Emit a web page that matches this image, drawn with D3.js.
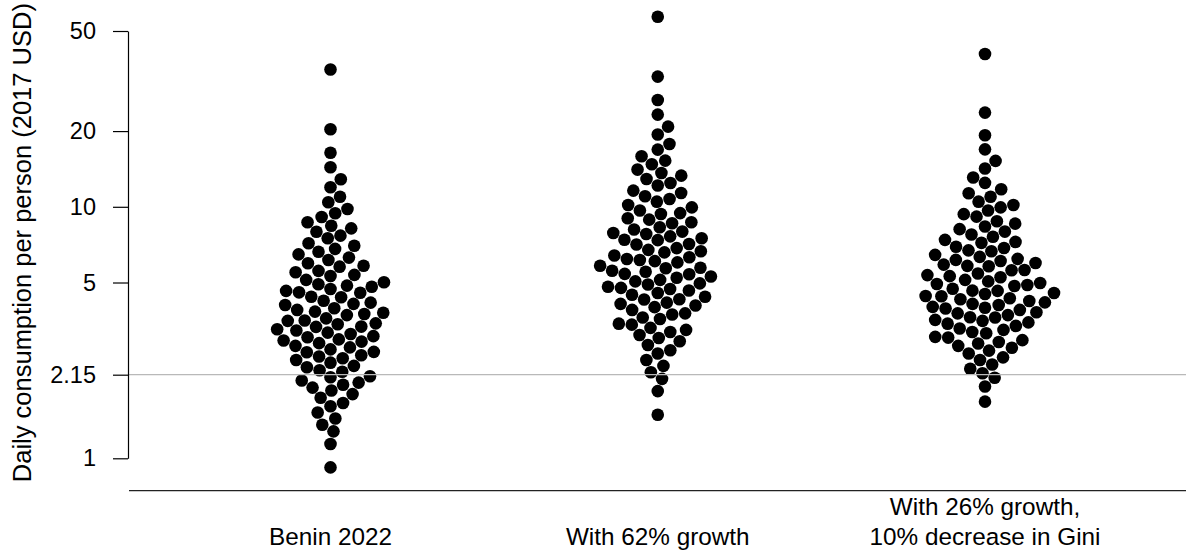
<!DOCTYPE html>
<html>
<head>
<meta charset="utf-8">
<script src="https://cdn.jsdelivr.net/npm/d3@7"></script>
<style>
  html, body { margin: 0; padding: 0; background: #ffffff; }
  svg { display: block; }
  text { font-family: "Liberation Sans", Arial, sans-serif; fill: #000; }
</style>
</head>
<body>
<svg id="chart" width="1186" height="550"></svg>
<script>
// ---------------- data ----------------
const categories = ["Benin 2022", "With 62% growth", "With 26% growth,\n10% decrease in Gini"];

const benin2022 = [35.15,20.33,16.41,14.36,12.86,11.96,10.97,10.42,9.80,9.42,
  9.11,8.68,8.41,8.21,7.96,7.68,7.50,7.16,7.00,6.80,
  6.63,6.47,6.28,6.14,5.96,5.83,5.78,5.56,5.49,5.36,
  5.31,5.12,5.01,4.92,4.86,4.81,4.71,4.63,4.57,4.55,
  4.39,4.37,4.23,4.16,4.11,4.07,3.95,3.89,3.83,3.79,
  3.75,3.71,3.60,3.53,3.52,3.44,3.41,3.34,3.33,3.26,
  3.22,3.16,3.12,3.06,3.03,2.97,2.94,2.91,2.87,2.80,
  2.76,2.71,2.65,2.64,2.57,2.54,2.50,2.46,2.40,2.33,
  2.30,2.24,2.21,2.12,2.10,2.04,2.00,1.96,1.91,1.86,
  1.80,1.74,1.66,1.61,1.52,1.44,1.36,1.28,1.14,0.92];

const growth62 = [56.94,32.93,26.58,23.26,20.83,19.38,17.77,16.88,15.88,15.26,
  14.76,14.06,13.62,13.30,12.90,12.44,12.15,11.60,11.34,11.02,
  10.74,10.48,10.17,9.95,9.66,9.44,9.36,9.01,8.89,8.68,
  8.60,8.29,8.12,7.97,7.87,7.79,7.63,7.50,7.40,7.37,
  7.11,7.08,6.85,6.74,6.66,6.59,6.40,6.30,6.20,6.14,
  6.08,6.01,5.83,5.72,5.70,5.57,5.52,5.41,5.39,5.28,
  5.22,5.12,5.05,4.96,4.91,4.81,4.76,4.71,4.65,4.54,
  4.47,4.39,4.29,4.28,4.16,4.11,4.05,3.99,3.89,3.77,
  3.73,3.63,3.58,3.43,3.40,3.30,3.24,3.18,3.09,3.01,
  2.92,2.82,2.69,2.61,2.46,2.33,2.20,2.07,1.85,1.49];

const growth26Gini10 = [40.50,23.69,19.25,16.92,15.22,14.20,13.08,12.45,11.75,11.32,
  10.97,10.48,10.17,9.95,9.66,9.35,9.14,8.76,8.57,8.35,
  8.15,7.97,7.76,7.60,7.39,7.25,7.19,6.94,6.86,6.71,
  6.66,6.44,6.32,6.21,6.15,6.09,5.98,5.89,5.82,5.80,
  5.61,5.59,5.43,5.35,5.30,5.25,5.12,5.05,4.98,4.93,
  4.89,4.84,4.72,4.64,4.63,4.54,4.50,4.42,4.41,4.33,
  4.29,4.22,4.17,4.11,4.07,4.00,3.97,3.94,3.89,3.81,
  3.77,3.71,3.64,3.63,3.55,3.52,3.47,3.43,3.36,3.28,
  3.24,3.18,3.14,3.04,3.02,2.95,2.90,2.86,2.80,2.75,
  2.68,2.61,2.52,2.46,2.36,2.27,2.18,2.09,1.93,1.68];

const yTickValues = [1, 2.15, 5, 10, 20, 50];
const yTickLabels = ["1", "2.15", "5", "10", "20", "50"];
const povertyLine = 2.15;
const yTitle = "Daily consumption per person (2017 USD)";

// ---------------- layout ----------------
const series = [benin2022, growth62, growth26Gini10];
const svg = d3.select("#chart");
svg.append("rect").attr("width", 1186).attr("height", 550).attr("fill", "#fff");

const axisX = 128;
const y = d3.scaleLog().domain([1, 50]).range([458.3, 31]);
const x = d3.scalePoint().domain(categories).range([330.5, 985]);

const dotR = 6.3;
const swarmUnit = 13; // spacing unit in px (beeswarm "swarm" method)

// R beeswarm "swarm" algorithm, priority ascending
function swarmOffsets(values) {
  const pos = values.map(v => y(v) / swarmUnit);
  const order = d3.range(values.length).sort((a, b) => (values[a] - values[b]) || (a - b));
  const placed = [];
  const offs = new Array(values.length).fill(0);
  order.forEach(idx => {
    const xi = pos[idx];
    const pot = placed.filter(q => Math.abs(xi - q.p) < 1);
    let off = 0;
    if (pot.length) {
      const cand = [0];
      pot.forEach(q => cand.push(q.o + Math.sqrt(1 - (xi - q.p) ** 2)));
      pot.forEach(q => cand.push(q.o - Math.sqrt(1 - (xi - q.p) ** 2)));
      let best = Infinity;
      cand.forEach(c => {
        const bad = pot.some(q => (xi - q.p) ** 2 + (c - q.o) ** 2 < 0.999);
        if (!bad && Math.abs(c) < Math.abs(best)) best = c;
      });
      off = best;
    }
    offs[idx] = off;
    placed.push({ p: xi, o: off });
  });
  return offs.map(o => o * swarmUnit);
}

// dots
series.forEach((vals, gi) => {
  const offs = swarmOffsets(vals);
  const cx0 = x(categories[gi]);
  svg.append("g").selectAll("circle")
    .data(vals.map((v, i) => ({ v, o: offs[i] })))
    .join("circle")
    .attr("cx", d => cx0 + d.o)
    .attr("cy", d => y(d.v))
    .attr("r", dotR)
    .attr("fill", "#000");
});

// poverty line (drawn over dots)
svg.append("line")
  .attr("x1", axisX).attr("x2", 1186)
  .attr("y1", y(povertyLine)).attr("y2", y(povertyLine))
  .attr("stroke", "#b9b9b9").attr("stroke-width", 1.3);

// y axis
const yAxis = d3.axisLeft(y)
  .tickValues(yTickValues)
  .tickFormat((d, i) => yTickLabels[i])
  .tickSize(15)
  .tickSizeOuter(0)
  .tickPadding(17);
const yg = svg.append("g").attr("transform", `translate(${axisX},0)`).call(yAxis);
yg.selectAll("path, line").attr("stroke", "#000").attr("stroke-width", 1.2);
yg.selectAll("text").style("font-size", "23.5px").attr("fill", "#000")
  .style("font-family", '"Liberation Sans", Arial, sans-serif');

// y title
svg.append("text")
  .attr("transform", `translate(31,${(y(1) + y(50)) / 2 - 2}) rotate(-90)`)
  .attr("text-anchor", "middle")
  .style("font-size", "25.5px")
  .text(yTitle);

// x axis line
svg.append("line")
  .attr("x1", 129).attr("x2", 1186)
  .attr("y1", 490.7).attr("y2", 490.7)
  .attr("stroke", "#222").attr("stroke-width", 1.3);

// x labels (bottom-aligned lines)
categories.forEach(c => {
  const lines = c.split("\n");
  const t = svg.append("text")
    .attr("text-anchor", "middle")
    .style("font-size", "24.3px");
  lines.forEach((ln, i) => {
    t.append("tspan")
      .attr("x", x(c))
      .attr("y", 545 - (lines.length - 1 - i) * 30)
      .text(ln);
  });
});
</script>
</body>
</html>
